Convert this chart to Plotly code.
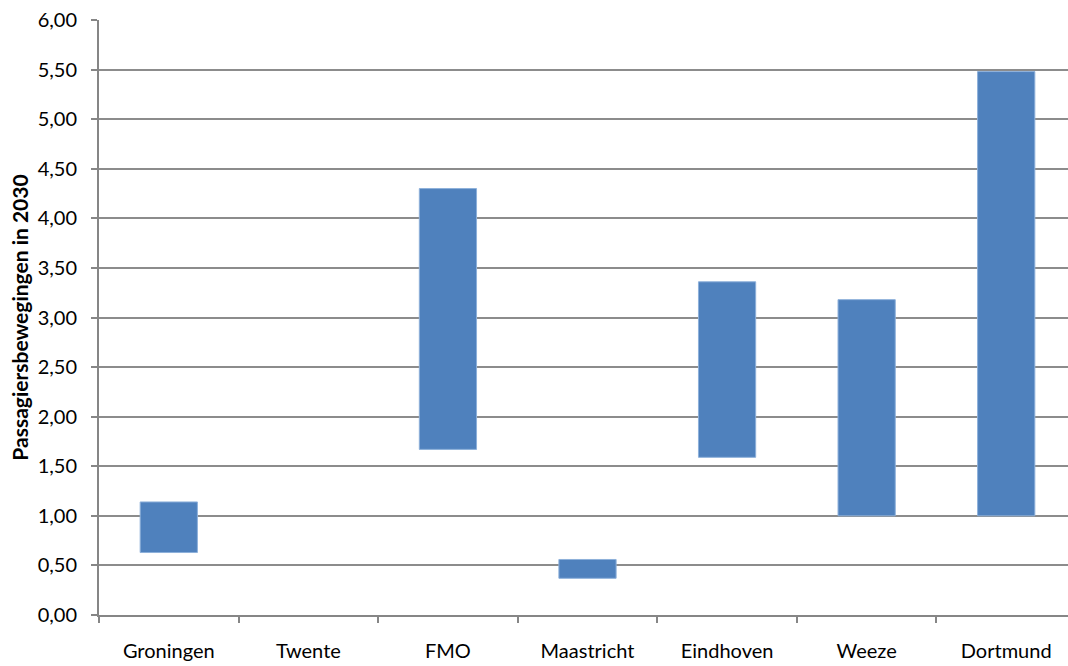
import plotly.graph_objects as go

# Passenger movements in 2030: low and high estimate per airport
airports = ["Groningen", "Twente", "FMO", "Maastricht", "Eindhoven", "Weeze", "Dortmund"]
low = [0.63, None, 1.67, 0.37, 1.59, 1.00, 1.00]
high = [1.14, None, 4.30, 0.56, 3.36, 3.18, 5.48]

span = [None if (l is None or h is None) else h - l for l, h in zip(low, high)]

fig = go.Figure(
    go.Bar(
        x=airports,
        y=span,
        base=low,
        width=0.41,
        marker=dict(color="#4F81BD", line=dict(color="#8DB0DA", width=1)),
    )
)

font_family = "Lato, Carlito, Calibri, sans-serif"

fig.update_layout(
    width=1076,
    height=666,
    margin=dict(l=99, r=0, t=20, b=51),
    plot_bgcolor="white",
    paper_bgcolor="white",
    separators=",.",
    showlegend=False,
    font=dict(family=font_family, size=20, color="#000000"),
)

fig.update_xaxes(
    type="category",
    range=[-0.5, 6.5],
    showline=True,
    linecolor="#868686",
    linewidth=2,
    ticks="outside",
    tickson="boundaries",
    ticklen=6,
    tickwidth=2,
    tickcolor="#868686",
    showgrid=False,
    tickfont=dict(size=20),
    ticklabelstandoff=17,
)

fig.update_yaxes(
    range=[0, 6],
    dtick=0.5,
    tick0=0,
    tickformat=".2f",
    showline=True,
    linecolor="#868686",
    linewidth=2,
    ticks="outside",
    ticklen=6,
    tickwidth=2,
    tickcolor="#868686",
    showgrid=True,
    gridcolor="#8C8C8C",
    gridwidth=2,
    zeroline=False,
    tickfont=dict(size=20),
    ticklabelstandoff=10,
    title=dict(
        text="<b>Passagiersbewegingen in 2030</b>",
        font=dict(size=21),
        standoff=3,
    ),
)

fig.write_html("out.html")
